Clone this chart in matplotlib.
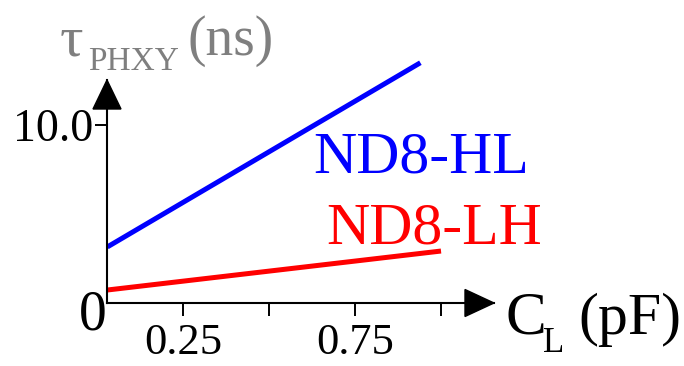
import matplotlib
matplotlib.use("Agg")
import matplotlib.pyplot as plt
from matplotlib.patches import Polygon

plt.rcParams['font.family'] = 'serif'
plt.rcParams['font.serif'] = ['Liberation Serif', 'DejaVu Serif']
FAM = ['Liberation Serif', 'DejaVu Serif']

# ---- data ----
hl_x = [0.03, 0.94]
hl_y = [3.15, 13.5]
lh_x = [0.03, 1.0]
lh_y = [0.73, 2.92]
xticks = [0.25, 0.5, 0.75, 1.0]
xtick_labels = ["0.25", "", "0.75", ""]
yticks = [10.0]
ytick_labels = ["10.0"]
series_names = ["ND8-HL", "ND8-LH"]
series_colors = ["#0000ff", "#ff0000"]

W, H = 684, 366
fig = plt.figure(figsize=(W / 100, H / 100), dpi=100)

def fx(px):
    return px / W

def fy(py):
    return 1 - py / H

ax = fig.add_axes([fx(107), fy(303), fx(494) - fx(107), fy(80) - fy(303)])
ax.set_xlim(0.029, 1.154)
ax.set_ylim(0, 12.53)

ax.plot(hl_x, hl_y, color=series_colors[0], lw=3.6, clip_on=False, solid_capstyle='butt')
ax.plot(lh_x, lh_y, color=series_colors[1], lw=3.6, clip_on=False, solid_capstyle='butt')

for s in ['top', 'right']:
    ax.spines[s].set_visible(False)
for s in ['left', 'bottom']:
    ax.spines[s].set_linewidth(1.5)
    ax.spines[s].set_color('black')

ax.set_xticks(xticks)
ax.set_xticklabels(xtick_labels, fontfamily=FAM)
ax.set_yticks(yticks)
ax.set_yticklabels(ytick_labels, fontfamily=FAM)
ax.tick_params(axis='x', direction='out', length=9.5, width=1.4, pad=5, labelsize=32)
ax.tick_params(axis='y', direction='out', length=8.6, width=1.4, pad=1, labelsize=33)

# arrow heads
aw = 387.0
ah = 223.0
ax.add_patch(Polygon([[1, 0], [1 - 29 / aw, 13.5 / ah], [1 - 29 / aw, -13.5 / ah]],
                     closed=True, color='black', transform=ax.transAxes, clip_on=False))
ax.add_patch(Polygon([[0, 1], [-14 / aw, 1 - 29 / ah], [14 / aw, 1 - 29 / ah]],
                     closed=True, color='black', transform=ax.transAxes, clip_on=False))

# origin label
fig.text(fx(93), fy(315), "0", fontsize=40, ha='center', va='center', family=FAM)

# series labels
fig.text(fx(313), fy(172), series_names[0], color=series_colors[0], fontsize=43,
         ha='left', va='baseline', family=FAM)
fig.text(fx(326), fy(243), series_names[1], color=series_colors[1], fontsize=43,
         ha='left', va='baseline', family=FAM)

# y-axis title
gray = '#7f7f7f'
fig.text(fx(60), fy(56), "τ", color=gray, fontsize=42, ha='left', va='baseline', family=FAM)
fig.text(fx(88), fy(70), "PHXY", color=gray, fontsize=24, ha='left', va='baseline', family=FAM)
fig.text(fx(188), fy(55), "(ns)", color=gray, fontsize=40, ha='left', va='baseline', family=FAM)

# x-axis title
fig.text(fx(505), fy(333), "C", color='black', fontsize=44, ha='left', va='baseline', family=FAM)
fig.text(fx(543), fy(352), "L", color='black', fontsize=25, ha='left', va='baseline', family=FAM)
fig.text(fx(578), fy(334), "(pF)", color='black', fontsize=43, ha='left', va='baseline', family=FAM)

fig.savefig("out.png", dpi=100)
